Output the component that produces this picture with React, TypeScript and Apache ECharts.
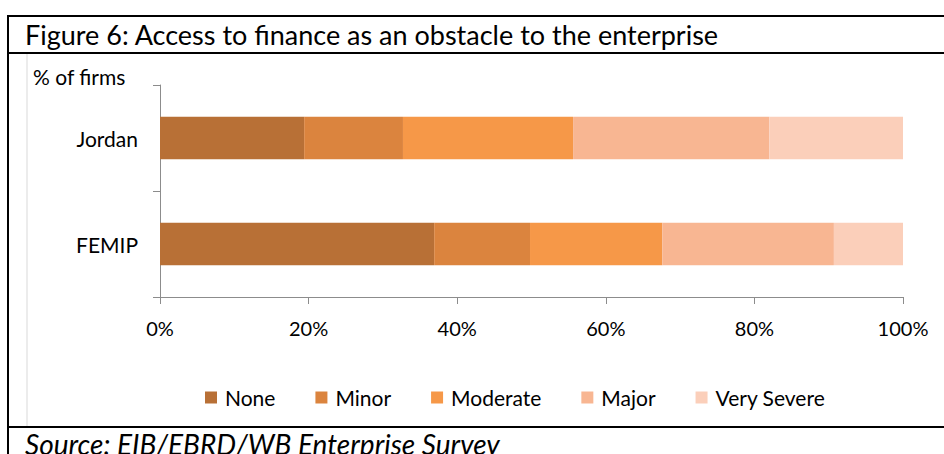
import React, { useEffect, useRef } from "react";
import * as echarts from "echarts";

const categories = ["Jordan", "FEMIP"];
const seriesNames = ["None", "Minor", "Moderate", "Major", "Very Severe"];
const noneValues = [19.4, 36.9];
const minorValues = [13.3, 12.9];
const moderateValues = [22.9, 17.8];
const majorValues = [26.4, 23.1];
const verySevereValues = [18.0, 9.3];
const xTicks = [0, 20, 40, 60, 80, 100];
const colors = ["#B87036", "#DB843E", "#F69848", "#F8B692", "#FBCFBA"];

const FONT = "Lato, 'Open Sans', sans-serif";

export default function App() {
  const ref = useRef<HTMLDivElement>(null);
  useEffect(() => {
    if (!ref.current) return;
    const chart = echarts.init(ref.current, undefined, { renderer: "svg" });
    const values = [noneValues, minorValues, moderateValues, majorValues, verySevereValues];
    chart.setOption({
      animation: false,
      backgroundColor: "#ffffff",
      textStyle: { fontFamily: FONT },
      grid: { left: 160, right: 41, top: 85, bottom: 157 },
      xAxis: {
        type: "value",
        min: xTicks[0],
        max: xTicks[xTicks.length - 1],
        interval: 20,
        axisLine: { show: true, lineStyle: { color: "#8c8c8c", width: 1 } },
        axisTick: { show: true, length: 7, lineStyle: { color: "#8c8c8c" } },
        splitLine: { show: false },
        axisLabel: { formatter: "{value}%", fontSize: 20, color: "#000", margin: 21, fontFamily: FONT },
      },
      yAxis: {
        type: "category",
        data: categories,
        inverse: true,
        axisLine: { show: true, lineStyle: { color: "#8c8c8c", width: 1 } },
        axisTick: { show: true, length: 7, lineStyle: { color: "#8c8c8c" } },
        axisLabel: { fontSize: 21, color: "#000", margin: 22, fontFamily: FONT },
      },
      legend: {
        data: seriesNames,
        top: 382,
        left: 200,
        itemWidth: 12,
        itemHeight: 12,
        itemGap: 40,
        icon: "rect",
        textStyle: { fontSize: 21, color: "#000", fontFamily: FONT, padding: [0, 0, 0, 3] },
      },
      series: seriesNames.map((name, i) => ({
        name,
        type: "bar",
        stack: "total",
        barWidth: "40%",
        data: values[i],
        itemStyle: { color: colors[i] },
      })),
      graphic: [
        { type: "line", shape: { x1: 8, y1: 16, x2: 944, y2: 16 }, style: { stroke: "#000", lineWidth: 2 } },
        { type: "line", shape: { x1: 8, y1: 15, x2: 8, y2: 454 }, style: { stroke: "#000", lineWidth: 2 } },
        { type: "line", shape: { x1: 8, y1: 53, x2: 944, y2: 53 }, style: { stroke: "#000", lineWidth: 2 } },
        { type: "line", shape: { x1: 8, y1: 427, x2: 944, y2: 427 }, style: { stroke: "#000", lineWidth: 2 } },
        { type: "line", shape: { x1: 27, y1: 54, x2: 27, y2: 426 }, style: { stroke: "#d9d9d9", lineWidth: 1 } },
        { type: "text", x: 25, y: 34, style: { text: "Figure 6: Access to finance as an obstacle to the enterprise", font: `27px ${FONT}`, fill: "#000", verticalAlign: "middle" } },
        { type: "text", x: 33, y: 76, style: { text: "% of firms", font: `21px ${FONT}`, fill: "#000", verticalAlign: "middle" } },
        { type: "text", x: 25, y: 444, style: { text: "Source: EIB/EBRD/WB Enterprise Survey", font: `italic 28px ${FONT}`, fill: "#000", verticalAlign: "middle" } },
      ],
    });
    return () => chart.dispose();
  }, []);
  return (
    <div style={{ position: "absolute", left: 0, top: 0, width: 944, height: 454, background: "#fff" }}>
      <div ref={ref} style={{ width: 944, height: 454 }} />
    </div>
  );
}
